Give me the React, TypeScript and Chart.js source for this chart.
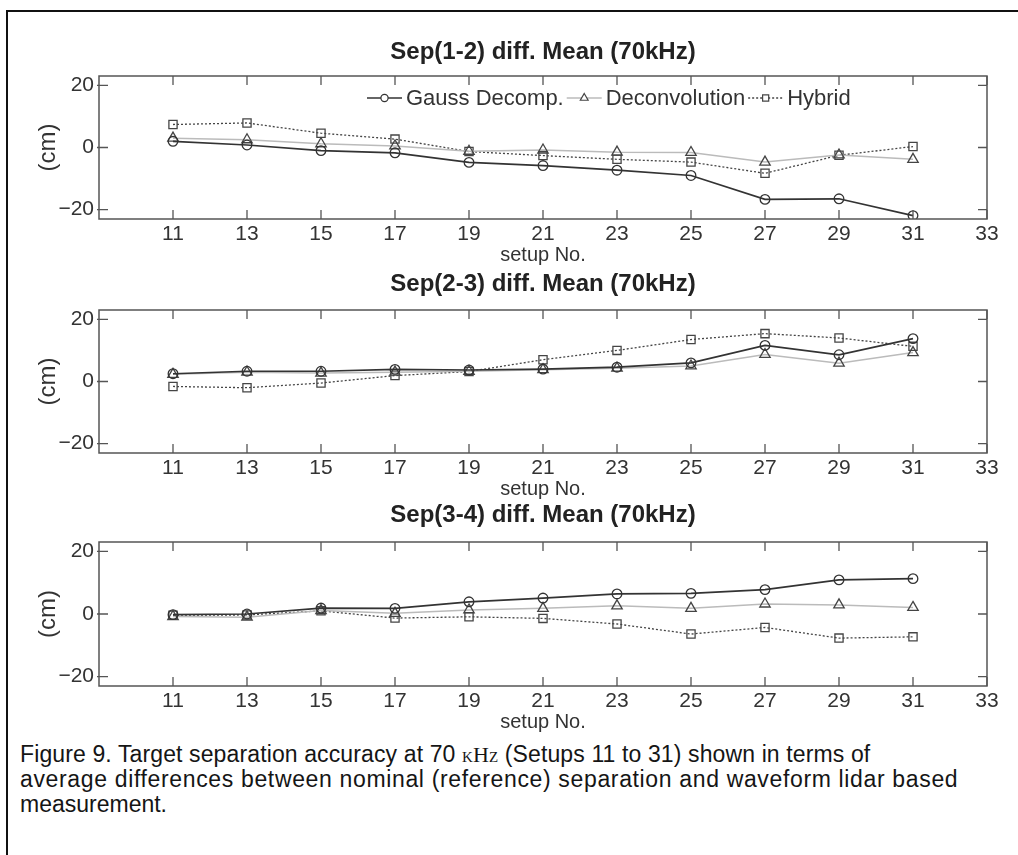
import React, { useEffect, useRef } from 'react';
import { Chart, registerables } from 'chart.js';
Chart.register(...registerables);

// ---------------- data ----------------
const setups = [11, 13, 15, 17, 19, 21, 23, 25, 27, 29, 31];
const xTickValues = [11, 13, 15, 17, 19, 21, 23, 25, 27, 29, 31, 33];
const yTickValues = [-20, 0, 20];
const seriesNames = ['Gauss Decomp.', 'Deconvolution', 'Hybrid'];
const panelTitles = ['Sep(1-2) diff. Mean (70kHz)', 'Sep(2-3) diff. Mean (70kHz)', 'Sep(3-4) diff. Mean (70kHz)'];
const xAxisLabel = 'setup No.';
const yAxisLabel = '(cm)';

const gauss12 = [2, 0.8, -1, -1.7, -4.8, -5.8, -7.3, -9, -16.7, -16.5, -21.9];
const deconv12 = [3, 2.5, 1.2, 0.5, -1.2, -0.8, -1.5, -1.6, -4.7, -2.4, -3.8];
const hybrid12 = [7.4, 7.9, 4.6, 2.7, -1.3, -2.6, -3.8, -4.7, -8.3, -2.5, 0.3];

const gauss23 = [2.5, 3.3, 3.3, 3.9, 3.7, 4.0, 4.6, 6, 11.6, 8.6, 13.8];
const deconv23 = [2.3, 3, 2.7, 3, 3.3, 3.8, 4.3, 5, 8.7, 5.9, 9.3];
const hybrid23 = [-1.6, -2, -0.5, 1.9, 3.2, 7, 10, 13.5, 15.4, 14, 11.3];

const gauss34 = [-0.2, 0, 1.9, 1.8, 3.9, 5.1, 6.4, 6.6, 7.8, 10.9, 11.3];
const deconv34 = [-0.8, -1, 1.1, 0.2, 1.3, 1.8, 2.6, 1.8, 3.2, 2.9, 2.1];
const hybrid34 = [-0.4, -0.3, 1.0, -1.3, -0.9, -1.4, -3.2, -6.4, -4.3, -7.7, -7.3];

// ---------------- styles / layout ----------------
const FONT = '"Liberation Sans", Arial, Helvetica, sans-serif';
const seriesStyles = [
  { line: '#333333', marker: '#333333', width: 1.7, dash: [] as number[], pointStyle: 'circle', radius: 4.8, legendRadius: 3.6 },
  { line: '#bbbbbb', marker: '#444444', width: 1.5, dash: [] as number[], pointStyle: 'triangle', radius: 6, legendRadius: 4.5 },
  { line: '#454545', marker: '#454545', width: 1.3, dash: [2, 2], pointStyle: 'rect', radius: 5.8, legendRadius: 4.3 },
];

const panels = [
  { top: 38, height: 229, titlePad: 9.2, series: [gauss12, deconv12, hybrid12], legend: true },
  { top: 270, height: 231, titlePad: 11.2, series: [gauss23, deconv23, hybrid23], legend: false },
  { top: 501, height: 233, titlePad: 12.2, series: [gauss34, deconv34, hybrid34], legend: false },
];

const PLOT_LEFT = 99;
const PLOT_RIGHT_PAD = 31;
const X_AXIS_H = 48;
const TICK_LEN = 9;

function fmtY(v: number) {
  return v < 0 ? '\u2212' + Math.abs(v) : String(v);
}

const framePlugin = {
  id: 'matFrame',
  afterDatasetsDraw(chart: any) {
    const { ctx, chartArea: a, scales } = chart;
    ctx.save();
    ctx.strokeStyle = '#555555';
    ctx.lineWidth = 1.5;
    ctx.setLineDash([]);
    ctx.strokeRect(a.left, a.top, a.right - a.left, a.bottom - a.top);
    ctx.lineWidth = 1.3;
    ctx.beginPath();
    for (const t of scales.x.ticks) {
      const px = scales.x.getPixelForValue(t.value);
      ctx.moveTo(px, a.bottom);
      ctx.lineTo(px, a.bottom - TICK_LEN);
      ctx.moveTo(px, a.top);
      ctx.lineTo(px, a.top + TICK_LEN);
    }
    for (const t of scales.y.ticks) {
      const py = scales.y.getPixelForValue(t.value);
      ctx.moveTo(a.left - 2, py);
      ctx.lineTo(a.left + TICK_LEN, py);
      ctx.moveTo(a.right, py);
      ctx.lineTo(a.right - TICK_LEN, py);
    }
    ctx.stroke();
    ctx.restore();
  },
  afterDraw(chart: any, _args: any, opts: any) {
    if (!opts || !opts.legend) return;
    const { ctx, chartArea: a } = chart;
    ctx.save();
    ctx.font = `22px ${FONT}`;
    ctx.textBaseline = 'middle';
    ctx.fillStyle = '#333';
    let x = a.left + 268;
    const y = a.top + 22;
    seriesNames.forEach((name, i) => {
      const st = seriesStyles[i];
      ctx.strokeStyle = st.line;
      ctx.lineWidth = st.width;
      ctx.setLineDash(st.dash);
      ctx.beginPath();
      ctx.moveTo(x, y);
      ctx.lineTo(x + 35, y);
      ctx.stroke();
      ctx.setLineDash([]);
      ctx.strokeStyle = st.marker;
      ctx.lineWidth = 1.2;
      const cx = x + 17.5;
      const r = st.legendRadius;
      ctx.beginPath();
      if (st.pointStyle === 'circle') {
        ctx.arc(cx, y, r, 0, Math.PI * 2);
      } else if (st.pointStyle === 'triangle') {
        ctx.moveTo(cx, y - r);
        ctx.lineTo(cx + r * 0.866, y + r * 0.5);
        ctx.lineTo(cx - r * 0.866, y + r * 0.5);
        ctx.closePath();
      } else {
        const s = r * Math.SQRT1_2;
        ctx.rect(cx - s, y - s, 2 * s, 2 * s);
      }
      ctx.fillStyle = '#fff';
      ctx.fill();
      ctx.stroke();
      ctx.fillStyle = '#333';
      ctx.fillText(name, x + 39, y + 1);
      x += 39 + ctx.measureText(name).width + 3;
    });
    ctx.restore();
  },
};

function Panel({ index }: { index: number }) {
  const ref = useRef<HTMLCanvasElement>(null);
  const p = panels[index];
  useEffect(() => {
    const datasets = p.series.map((vals, i) => {
      const st = seriesStyles[i];
      return {
        label: seriesNames[i],
        data: setups.map((s, k) => ({ x: s, y: vals[k] })),
        borderColor: st.line,
        borderWidth: st.width,
        borderDash: st.dash,
        tension: 0,
        fill: false,
        pointStyle: st.pointStyle,
        pointRadius: st.radius,
        pointBorderColor: st.marker,
        pointBackgroundColor: 'rgba(0,0,0,0)',
        pointBorderWidth: 1.3,
      };
    });
    const chart = new Chart(ref.current as HTMLCanvasElement, {
      type: 'line',
      data: { datasets } as any,
      plugins: [framePlugin],
      options: {
        animation: false,
        responsive: false,
        devicePixelRatio: 1,
        layout: { padding: { left: 0, top: 0, bottom: 0, right: PLOT_RIGHT_PAD } },
        plugins: {
          legend: { display: false },
          tooltip: { enabled: false },
          title: {
            display: true,
            text: panelTitles[index],
            fullSize: false,
            color: '#222',
            font: { family: FONT, size: 24, weight: 'bold' },
            padding: { top: 0, bottom: p.titlePad },
          },
          matFrame: { legend: p.legend },
        } as any,
        scales: {
          x: {
            type: 'linear',
            min: 9,
            max: 33,
            afterBuildTicks: (s: any) => {
              s.ticks = xTickValues.map((v) => ({ value: v }));
            },
            afterFit: (s: any) => {
              s.height = X_AXIS_H;
            },
            grid: { display: false, drawTicks: false },
            border: { display: false },
            ticks: {
              autoSkip: false,
              maxRotation: 0,
              padding: 3,
              color: '#333',
              font: { family: FONT, size: 21 },
              callback: (v: any) => String(v),
            },
            title: {
              display: true,
              text: xAxisLabel,
              color: '#333',
              font: { family: FONT, size: 20 },
              padding: { top: 0, bottom: 0 },
            },
          },
          y: {
            type: 'linear',
            min: -23,
            max: 23,
            afterBuildTicks: (s: any) => {
              s.ticks = yTickValues.map((v) => ({ value: v }));
            },
            afterFit: (s: any) => {
              s.width = PLOT_LEFT;
            },
            grid: { display: false, drawTicks: false },
            border: { display: false },
            ticks: {
              padding: 5,
              color: '#333',
              font: { family: FONT, size: 21 },
              callback: (v: any) => fmtY(Number(v)),
            },
            title: {
              display: true,
              text: yAxisLabel,
              color: '#333',
              font: { family: FONT, size: 24 },
              padding: { top: 34, bottom: 0 },
            },
          },
        },
      } as any,
    });
    return () => chart.destroy();
  }, []);
  return (
    <canvas
      ref={ref}
      width={1018}
      height={p.height}
      style={{ position: 'absolute', left: 0, top: p.top, width: 1018, height: p.height }}
    />
  );
}

export default function App() {
  return (
    <div style={{ position: 'absolute', left: 0, top: 0, width: 1018, height: 855, background: '#fff', overflow: 'hidden' }}>
      <div style={{ position: 'absolute', left: 6, top: 10, width: 1012, height: 2, background: '#111' }} />
      <div style={{ position: 'absolute', left: 6, top: 10, width: 2, height: 845, background: '#111' }} />
      {panels.map((_, i) => (
        <Panel key={i} index={i} />
      ))}
      <div
        style={{
          position: 'absolute',
          left: 20,
          top: 742,
          fontFamily: FONT,
          fontSize: 23,
          lineHeight: '25px',
          color: '#151515',
          whiteSpace: 'nowrap',
        }}
      >
        <div style={{ letterSpacing: '0.12px' }}>
          Figure 9. Target separation accuracy at 70{' '}
          <span style={{ fontFamily: '"Liberation Serif", "DejaVu Serif", serif', fontVariant: 'small-caps', fontSize: 22 }}>kHz</span>{' '}
          (Setups 11 to 31) shown in terms of
        </div>
        <div style={{ letterSpacing: '0.65px' }}>
          average differences between nominal (reference) separation and waveform lidar based
        </div>
        <div>measurement.</div>
      </div>
    </div>
  );
}
